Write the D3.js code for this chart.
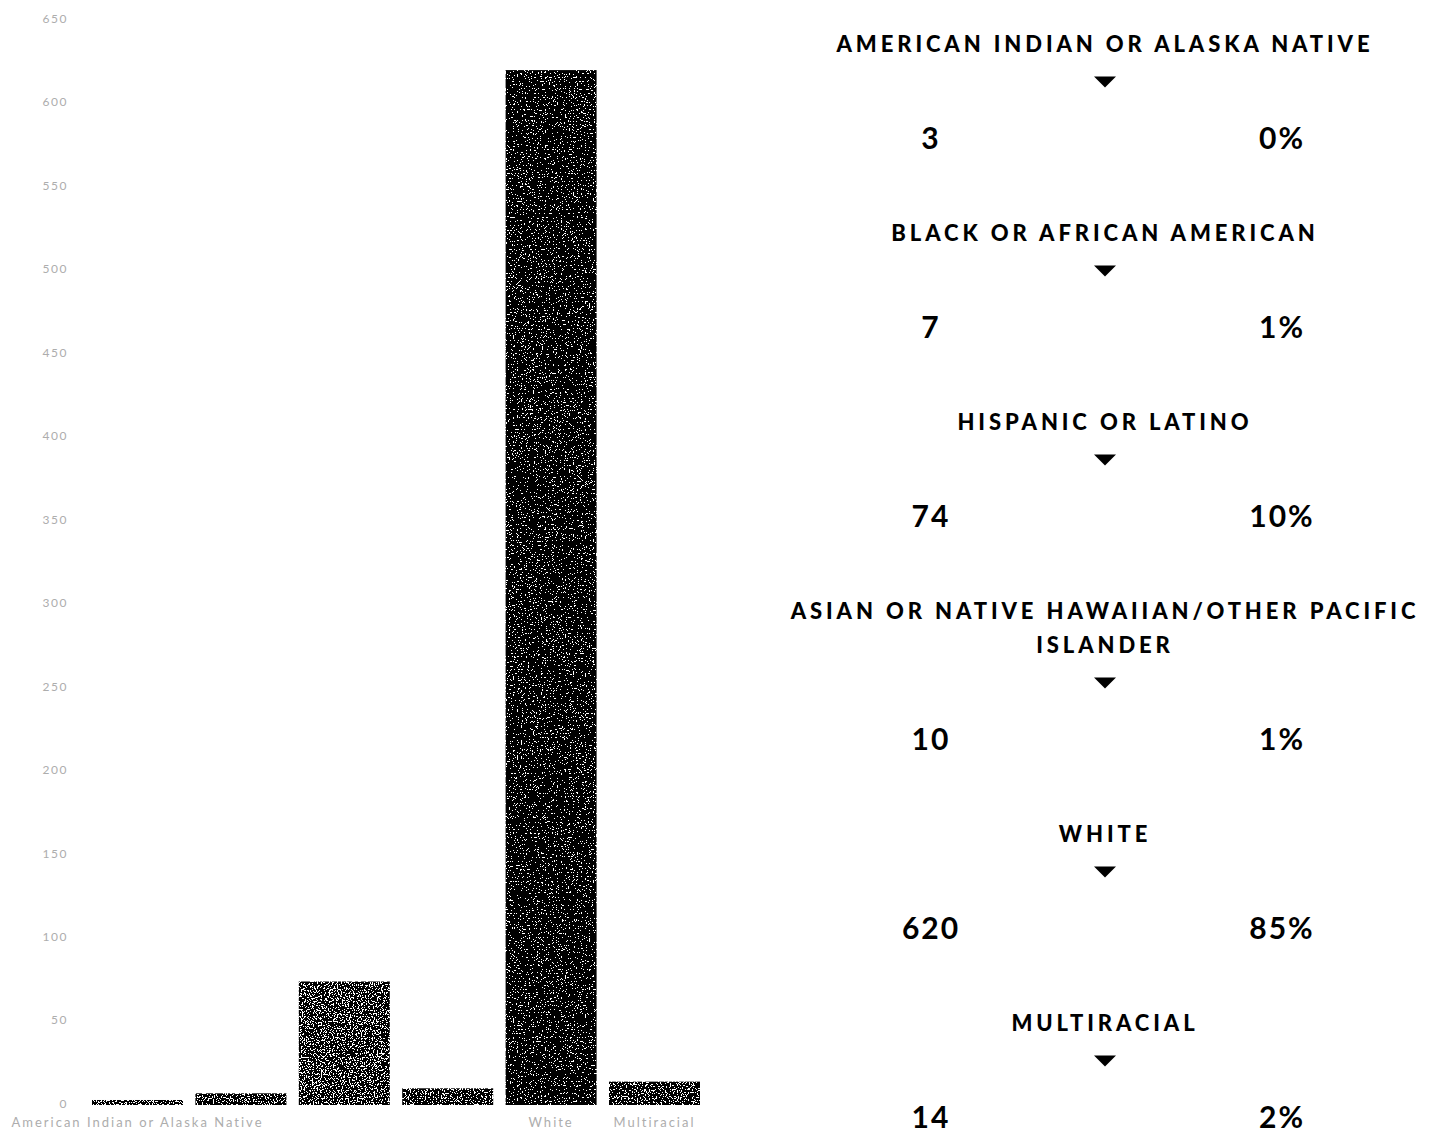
<!DOCTYPE html>
<html>
<head>
<meta charset="utf-8">
<script src="https://cdn.jsdelivr.net/npm/d3@7"></script>
<style>
    body { margin: 0; background: #fff; }
    svg { display: block; font-family: Lato, "Open Sans", sans-serif; }
</style>
</head>
<body>
<script>
// Students by race / ethnicity: bar chart on the left, summary list on the right

// Data
var categories = [
    "American Indian or Alaska Native",
    "Black or African American",
    "Hispanic or Latino",
    "Asian or Native Hawaiian/Other Pacific Islander",
    "White",
    "Multiracial"
];
var counts = [3, 7, 74, 10, 620, 14];
// only some labels survive under the bars in the picture
var xTickLabels = ["American Indian or Alaska Native", "", "", "", "White",
    "Multiracial"];
var yTicks = [0, 50, 100, 150, 200, 250, 300, 350, 400, 450, 500, 550, 600,
    650];
// right-hand list titles (long one wraps on two lines)
var listTitles = [
    ["AMERICAN INDIAN OR ALASKA NATIVE"],
    ["BLACK OR AFRICAN AMERICAN"],
    ["HISPANIC OR LATINO"],
    ["ASIAN OR NATIVE HAWAIIAN/OTHER PACIFIC", "ISLANDER"],
    ["WHITE"],
    ["MULTIRACIAL"]
];

// Grain threshold per bar: higher = more white specks
var grainCut = [0.425, 0.41, 0.425, 0.41, 0.338, 0.4];

var width = 1433,
    height = 1132;

var svg = d3.select("body")
    .append("svg")
    .attr("width", width)
    .attr("height", height);

// One grain filter per bar: noise below the cut turns white
var defs = svg.append("defs");
grainCut.forEach(function(q, i) {
    var f = defs.append("filter")
        .attr("id", "grain" + i)
        .attr("x", 0).attr("y", 0)
        .attr("width", 1).attr("height", 1)
        .attr("color-interpolation-filters", "sRGB");
    f.append("feTurbulence")
        .attr("type", "fractalNoise")
        .attr("baseFrequency", 0.75)
        .attr("numOctaves", 2)
        .attr("seed", 7 + i)
        .attr("result", "noise");
    var o = 0.5 - q;
    f.append("feColorMatrix")
        .attr("in", "noise")
        .attr("type", "matrix")
        .attr("values", "1 0 0 0 " + o + "  1 0 0 0 " + o + "  1 0 0 0 " +
            o + "  0 0 0 0 1")
        .attr("result", "shift");
    var ct = f.append("feComponentTransfer")
        .attr("in", "shift")
        .attr("result", "bw");
    ["feFuncR", "feFuncG", "feFuncB"].forEach(function(fn) {
        ct.append(fn).attr("type", "discrete").attr("tableValues", "1 0");
    });
    f.append("feComposite")
        .attr("in", "bw")
        .attr("in2", "SourceGraphic")
        .attr("operator", "in");
});

// Scales
var x = d3.scaleBand()
    .domain(categories)
    .range([85.8, 706.2])
    .paddingInner(0.12)
    .paddingOuter(0.06);

var y = d3.scaleLinear()
    .domain([0, 650])
    .range([1105, 20]);

// Y axis: labels only
var yAxis = d3.axisLeft(y)
    .tickValues(yTicks)
    .tickSize(0)
    .tickPadding(0);

svg.append("g")
    .attr("transform", "translate(68,0)")
    .call(yAxis)
    .call(function(g) { g.select(".domain").remove(); })
    .selectAll("text")
    .attr("fill", "#adadad")
    .attr("dy", "0.2em")
    .style("font-family", "Lato, sans-serif")
    .style("font-size", "12px")
    .style("letter-spacing", "1.5px");

// X axis: labels only
var xAxis = d3.axisBottom(x)
    .tickSize(0)
    .tickPadding(0)
    .tickFormat(function(d, i) { return xTickLabels[i]; });

svg.append("g")
    .attr("transform", "translate(0,1118)")
    .call(xAxis)
    .call(function(g) { g.select(".domain").remove(); })
    .selectAll("text")
    .attr("fill", "#adadad")
    .style("font-family", "Lato, sans-serif")
    .style("font-size", "13px")
    .style("letter-spacing", "2px");

// Bars
svg.append("g")
    .selectAll("rect")
    .data(counts)
    .enter().append("rect")
    .attr("x", function(d, i) { return x(categories[i]); })
    .attr("y", function(d) { return y(d); })
    .attr("width", x.bandwidth())
    .attr("height", function(d) { return y(0) - y(d); })
    .attr("fill", "#000")
    .attr("filter", function(d, i) { return "url(#grain" + i + ")"; });

// Right-hand list
var total = d3.sum(counts);
var cx = 1105,
    valueX = 931,
    pctX = 1282;
var list = svg.append("g");
var yPos = 43;

categories.forEach(function(c, i) {
    var lines = listTitles[i];
    lines.forEach(function(line, j) {
        list.append("text")
            .attr("x", cx)
            .attr("y", yPos + j * 34)
            .attr("text-anchor", "middle")
            .attr("dominant-baseline", "central")
            .style("font-size", "22px")
            .style("font-weight", 900)
            .style("letter-spacing", "3.9px")
            .attr("fill", "#000")
            .text(line);
    });
    var last = yPos + (lines.length - 1) * 34;
    var ty = last + 38.5;
    list.append("path")
        .attr("d", d3.line()([[cx - 11, ty - 5], [cx + 11, ty - 5],
            [cx, ty + 6]]) + "Z")
        .attr("fill", "#000");
    var vy = ty + 55;
    list.append("text")
        .attr("x", valueX)
        .attr("y", vy)
        .attr("text-anchor", "middle")
        .attr("dominant-baseline", "central")
        .style("font-size", "30px")
        .style("font-weight", 700)
        .style("letter-spacing", "2px")
        .attr("fill", "#000")
        .text(counts[i]);
    list.append("text")
        .attr("x", pctX)
        .attr("y", vy)
        .attr("text-anchor", "middle")
        .attr("dominant-baseline", "central")
        .style("font-size", "30px")
        .style("font-weight", 700)
        .style("letter-spacing", "2px")
        .attr("fill", "#000")
        .text(Math.round(counts[i] / total * 100) + "%");
    yPos = vy + 95.5;
});
</script>
</body>
</html>
